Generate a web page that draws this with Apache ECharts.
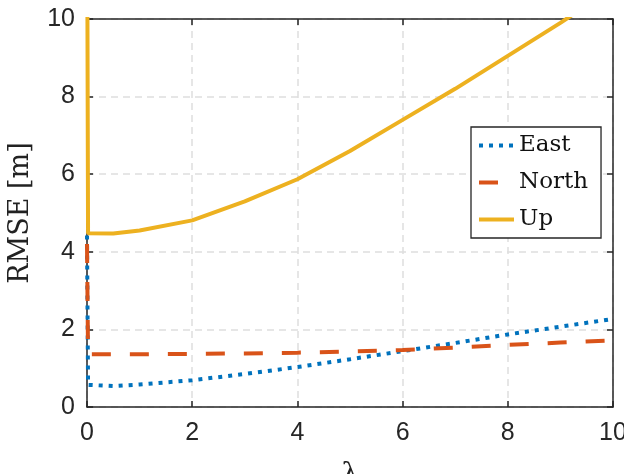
<!DOCTYPE html>
<html>
<head>
<meta charset="utf-8">
<script src="https://cdn.jsdelivr.net/npm/echarts@6/dist/echarts.min.js"></script>
<style>html,body{margin:0;padding:0;background:#fff}#c{width:624px;height:474px}</style>
</head>
<body>
<div id="c"></div>
<script>
// data
var lambda = [0, 0.02, 0.5, 1, 2, 3, 4, 5, 6, 7, 8, 9, 10];
var east  = [4.42, 0.57, 0.54, 0.58, 0.69, 0.85, 1.03, 1.23, 1.44, 1.65, 1.87, 2.07, 2.27];
var north = [4.2, 1.36, 1.36, 1.36, 1.37, 1.38, 1.40, 1.43, 1.47, 1.53, 1.60, 1.66, 1.72];
var up    = [14, 4.48, 4.47, 4.55, 4.81, 5.3, 5.87, 6.6, 7.4, 8.2, 9.05, 9.9, 10.8];
var seriesNames = ['East', 'North', 'Up'];
var xTicks = [0, 2, 4, 6, 8, 10];
var yTicks = [0, 2, 4, 6, 8, 10];

function pairs(xs, ys) { return xs.map(function (x, i) { return [x, ys[i]]; }); }

var axisCol = '#262626';
var sans = 'Liberation Sans, Arial, sans-serif';
var serif = 'DejaVu Serif, serif';

var chart = echarts.init(document.getElementById('c'), null, {renderer: 'canvas'});
var baseX = {
  type: 'value', min: xTicks[0], max: xTicks[xTicks.length - 1], interval: xTicks[1] - xTicks[0]
};
var baseY = {
  type: 'value', min: yTicks[0], max: yTicks[yTicks.length - 1], interval: yTicks[1] - yTicks[0]
};
chart.setOption({
  animation: false,
  backgroundColor: '#ffffff',
  grid: {left: 87, right: 11, top: 19, bottom: 67, containLabel: false, outerBoundsMode: 'none'},
  legend: {
    orient: 'vertical', left: 471, top: 127,
    data: seriesNames,
    backgroundColor: '#ffffff',
    borderColor: '#262626', borderWidth: 1.3,
    padding: [6, 13, 6, 6],
    itemWidth: 35, itemHeight: 10, itemGap: 12,
    itemStyle: {opacity: 0},
    lineStyle: {width: 4},
    textStyle: {fontFamily: serif, fontSize: 23, color: '#111', lineHeight: 25}
  },
  xAxis: [
    Object.assign({}, baseX, {
      position: 'bottom',
      name: 'λ', nameLocation: 'middle', nameGap: 54,
      nameTextStyle: {fontFamily: serif, fontSize: 27, color: '#222', verticalAlign: 'top'},
      axisLine: {show: true, onZero: false, lineStyle: {color: axisCol, width: 1.5}},
      axisTick: {show: true, inside: true, length: 6, lineStyle: {color: axisCol, width: 1.5}},
      axisLabel: {fontFamily: sans, fontSize: 25, color: '#262626', margin: 14},
      splitLine: {show: true, lineStyle: {color: '#dedede', width: 1.5, type: [7, 5]}}
    }),
    Object.assign({}, baseX, {
      position: 'top',
      axisLine: {show: true, onZero: false, lineStyle: {color: axisCol, width: 1.5}},
      axisTick: {show: true, inside: true, length: 6, lineStyle: {color: axisCol, width: 1.5}},
      axisLabel: {show: false},
      splitLine: {show: false}
    })
  ],
  yAxis: [
    Object.assign({}, baseY, {
      position: 'left',
      name: 'RMSE [m]', nameLocation: 'middle', nameGap: 66, nameRotate: 90,
      nameTextStyle: {fontFamily: serif, fontSize: 27, color: '#222', verticalAlign: 'middle'},
      axisLine: {show: true, onZero: false, lineStyle: {color: axisCol, width: 1.5}},
      axisTick: {show: true, inside: true, length: 6, lineStyle: {color: axisCol, width: 1.5}},
      axisLabel: {fontFamily: sans, fontSize: 25, color: '#262626', margin: 12},
      splitLine: {show: true, lineStyle: {color: '#dedede', width: 1.5, type: [7, 5]}}
    }),
    Object.assign({}, baseY, {
      position: 'right',
      axisLine: {show: true, onZero: false, lineStyle: {color: axisCol, width: 1.5}},
      axisTick: {show: true, inside: true, length: 6, lineStyle: {color: axisCol, width: 1.5}},
      axisLabel: {show: false},
      splitLine: {show: false}
    })
  ],
  series: [
    {
      name: seriesNames[0], type: 'line', xAxisIndex: 0, yAxisIndex: 0,
      data: pairs(lambda, east), symbol: 'none', clip: true, color: '#0072BD',
      lineStyle: {color: '#0072BD', width: 4, type: [4, 6], cap: 'butt'}
    },
    {
      name: seriesNames[1], type: 'line', xAxisIndex: 0, yAxisIndex: 0,
      data: pairs(lambda, north), symbol: 'none', clip: true, color: '#D95319',
      lineStyle: {color: '#D95319', width: 4, type: [19, 19], cap: 'butt'}
    },
    {
      name: seriesNames[2], type: 'line', xAxisIndex: 0, yAxisIndex: 0,
      data: pairs(lambda, up), symbol: 'none', clip: true, color: '#EDB120',
      lineStyle: {color: '#EDB120', width: 4}
    }
  ]
});
</script>
</body>
</html>
